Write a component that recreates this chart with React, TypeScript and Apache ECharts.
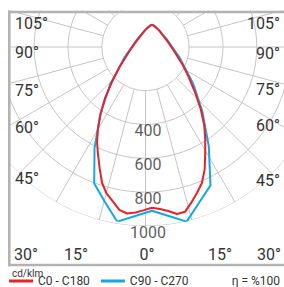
import React, { useEffect, useRef } from "react";
import * as echarts from "echarts";

// ---- data (cd/klm) ----
const GAMMA_RED = [0, 2.5, 5, 7.5, 10, 12.5, 15, 17.5, 20, 22.5, 25, 27.5, 30, 32.5, 35, 37.5, 40, 42.5, 45, 50, 55, 60, 65, 70, 80, 90];
const C0 = [915, 922, 935, 955, 950, 910, 870, 830, 770, 695, 630, 565, 487, 400, 320, 250, 170, 120, 80, 50, 30, 15, 5, 0, 0, 0];
const C180 = [915, 928, 943, 952, 940, 905, 875, 830, 765, 705, 650, 585, 515, 440, 350, 265, 185, 130, 85, 50, 30, 15, 5, 0, 0, 0];

const GAMMA_BLUE = [0, 5, 10, 15, 20, 25, 30, 35, 40, 45, 50, 55, 60, 65, 70, 80, 90];
const C90 = [930, 960, 1000, 918, 855, 672, 505, 358, 215, 110, 55, 30, 15, 5, 0, 0, 0];
const C270 = [930, 960, 1000, 915, 845, 680, 515, 365, 215, 110, 55, 30, 15, 5, 0, 0, 0];

const RING_VALUES = [200, 400, 600, 800, 1000];
const RING_LABELS = [400, 600, 800, 1000];
const RADIAL_ANGLES = [0, 15, 30, 45, 60, 75, 90, 105, 120, 135, 150, 165, 180, 195, 210, 225, 240, 255, 270, 285, 300, 315, 330, 345];

const LEFT_ANGLE_LABELS = ["105°", "90°", "75°", "60°", "45°"];
const RIGHT_ANGLE_LABELS = ["105°", "90°", "75°", "60°", "45°"];
const BOTTOM_ANGLE_LABELS = ["30°", "15°", "0°", "15°", "30°"];

const SERIES_NAMES = ["C0 - C180", "C90 - C270"];
const UNIT = "cd/klm";
const EFFICIENCY = "η = %100";

// ---- layout ----
const W = 284;
const H = 287;
const LEFT_Y = [23, 52, 90, 127, 178];
const RIGHT_Y = [23, 53, 89, 125, 180];
const BOTTOM_X = [14, 76, 147, 220, 281];
const BOTTOM_ALIGN = ["left", "center", "center", "center", "right"];
const FONT = "Roboto, 'Open Sans', sans-serif";
const GRID_COLOR = "#c4c4c4";
const FRAME_COLOR = "#b3b3b3";
const RED = "#e8212b";
const BLUE = "#14a8e2";

function curveData(gammas: number[], right: number[], left: number[]) {
  const pts: number[][] = [];
  for (let i = gammas.length - 1; i >= 0; i--) pts.push([left[i], 360 - gammas[i]]);
  for (let i = 1; i < gammas.length; i++) pts.push([right[i], gammas[i]]);
  return pts;
}

export default function App() {
  const ref = useRef<HTMLDivElement>(null);
  useEffect(() => {
    if (!ref.current) return;
    const chart = echarts.init(ref.current, undefined, { renderer: "svg" });

    const gridSeries: any[] = [];
    RING_VALUES.forEach((v) => {
      const d: number[][] = [];
      for (let a = 0; a <= 360; a += 2) d.push([v, a]);
      gridSeries.push({
        type: "line", coordinateSystem: "polar", polarIndex: 0, data: d, symbol: "none", silent: true, clip: false, z: 1,
        lineStyle: { color: GRID_COLOR, width: 1 },
      });
    });
    RADIAL_ANGLES.forEach((a) => {
      gridSeries.push({
        type: "line", coordinateSystem: "polar", polarIndex: 0, data: [[200, a], [1800, a]], symbol: "none", silent: true, clip: false, z: 1,
        lineStyle: { color: GRID_COLOR, width: 1 },
      });
    });

    const texts: any[] = [];
    LEFT_ANGLE_LABELS.forEach((t, i) => texts.push({
      type: "text", x: 15, y: LEFT_Y[i], z: 150,
      style: { text: t, fill: "#333", font: `16px ${FONT}`, align: "left", verticalAlign: "middle" },
    }));
    RIGHT_ANGLE_LABELS.forEach((t, i) => texts.push({
      type: "text", x: 280, y: RIGHT_Y[i], z: 150,
      style: { text: t, fill: "#333", font: `16px ${FONT}`, align: "right", verticalAlign: "middle" },
    }));
    BOTTOM_ANGLE_LABELS.forEach((t, i) => texts.push({
      type: "text", x: BOTTOM_X[i], y: 254, z: 150,
      style: { text: t, fill: "#333", font: `16px ${FONT}`, align: BOTTOM_ALIGN[i], verticalAlign: "middle" },
    }));

    const option: any = {
      animation: false,
      polar: [
        { center: [145.5, 47], radius: 179 },
        { center: [152, 24.7], radius: 200 },
      ],
      angleAxis: [
        { polarIndex: 0, type: "value", min: 0, max: 360, startAngle: 270, clockwise: false, show: false },
        { polarIndex: 1, type: "value", min: 0, max: 360, startAngle: 270, clockwise: false, show: false },
      ],
      radiusAxis: [
        { polarIndex: 0, type: "value", min: -57, max: 1000, show: false },
        { polarIndex: 1, type: "value", min: 0, max: 1000, show: false },
      ],
      legend: {
        data: SERIES_NAMES,
        left: 9, top: 275, padding: 0, z: 200,
        icon: "rect", itemWidth: 24, itemHeight: 3, itemGap: 11,
        textStyle: { fontSize: 12, lineHeight: 12, color: "#333", fontFamily: FONT },
      },
      series: [
        ...gridSeries,
        {
          type: "scatter", coordinateSystem: "polar", polarIndex: 0, z: 10, silent: true,
          data: RING_LABELS.map((v) => [v, 0]),
          symbolSize: 1, itemStyle: { color: "transparent" },
          label: {
            show: true, position: "inside", offset: [2.5, 6],
            formatter: (p: any) => String(p.value[0]),
            fontSize: 16, color: "#333", fontFamily: FONT,
          },
        },
        {
          name: SERIES_NAMES[1], type: "line", coordinateSystem: "polar", polarIndex: 1, clip: false, z: 3,
          data: curveData(GAMMA_BLUE, C90, C270), symbol: "none",
          lineStyle: { color: BLUE, width: 2 }, itemStyle: { color: BLUE },
        },
        {
          name: SERIES_NAMES[0], type: "line", coordinateSystem: "polar", polarIndex: 1, clip: false, z: 4,
          data: curveData(GAMMA_RED, C0, C180), symbol: "none",
          lineStyle: { color: RED, width: 2 }, itemStyle: { color: RED },
        },
      ],
      graphic: {
        elements: [
          { type: "rect", z: 100, shape: { x: 0, y: 0, width: 8, height: H }, style: { fill: "#fff" } },
          { type: "rect", z: 100, shape: { x: 0, y: 0, width: W, height: 10.5 }, style: { fill: "#fff" } },
          { type: "rect", z: 100, shape: { x: 0, y: 266, width: W, height: H - 266 }, style: { fill: "#fff" } },
          { type: "line", z: 110, shape: { x1: 9.3, y1: 10.5, x2: 9.3, y2: 266.3 }, style: { stroke: FRAME_COLOR, lineWidth: 2.6 } },
          { type: "line", z: 110, shape: { x1: 8, y1: 12, x2: W, y2: 12 }, style: { stroke: FRAME_COLOR, lineWidth: 2.6 } },
          { type: "line", z: 110, shape: { x1: 8, y1: 265, x2: W, y2: 265 }, style: { stroke: FRAME_COLOR, lineWidth: 2.6 } },
          ...texts,
          {
            type: "text", x: 12, y: 273, z: 200,
            style: { text: UNIT, fill: "#333", font: `10px ${FONT}`, lineHeight: 10, align: "left", verticalAlign: "middle" },
          },
          {
            type: "text", x: 280, y: 281, z: 200,
            style: { text: EFFICIENCY, fill: "#333", font: `12px ${FONT}`, lineHeight: 12, align: "right", verticalAlign: "middle" },
          },
        ],
      },
    };
    chart.setOption(option);
    return () => chart.dispose();
  }, []);
  return (
    <div
      ref={ref}
      style={{ position: "absolute", left: 0, top: 0, width: W, height: H, background: "#fff" }}
    />
  );
}
